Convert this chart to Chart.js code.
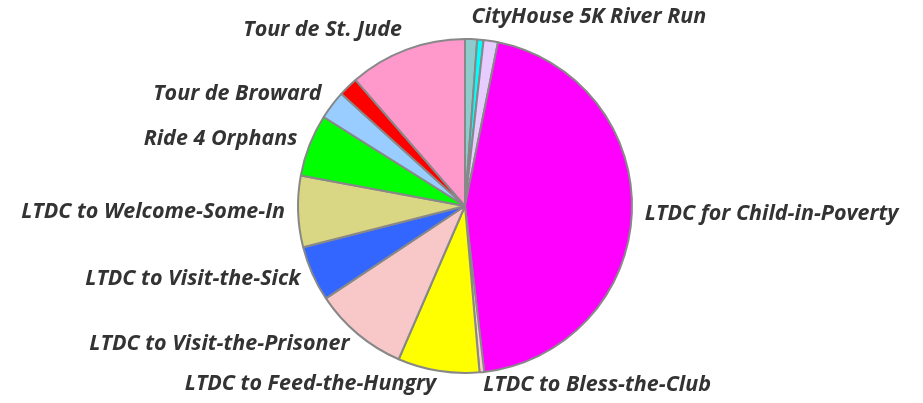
<!DOCTYPE html>
<html>
<head>
<meta charset="utf-8">
<script src="https://cdn.jsdelivr.net/npm/chart.js@4.4.1/dist/chart.umd.min.js"></script>
<style>
  html, body { margin: 0; padding: 0; background: #fff; }
  #wrap { width: 923px; height: 403px; }
</style>
</head>
<body>
<div id="wrap"><canvas id="pieChart"></canvas></div>
<script>
// slices, clockwise from 12 o'clock (labels of the tiny hidden slices are unknown)
const events = [
    'CityHouse 5K River Run', 'Event 2', 'Event 3',
    'LTDC for Child-in-Poverty', 'LTDC to Bless-the-Club', 'LTDC to Feed-the-Hungry',
    'LTDC to Visit-the-Prisoner', 'LTDC to Visit-the-Sick', 'LTDC to Welcome-Some-In',
    'Ride 4 Orphans', 'Tour de Broward', 'Event 12', 'Tour de St. Jude'
];
const shares = [4.2, 2.2, 5.0, 162, 1.6, 28.4, 33, 19.3, 24.8, 21.7, 10, 6.8, 41];
const sliceColors = [
    '#8ccccc', '#00ffff', '#e6ccff', '#ff00ff', '#ffcccc', '#ffff00',
    '#f8c8c8', '#3366ff', '#d9d684', '#00ff00', '#99ccff', '#ff0000', '#ff99cc'
];

// outside labels, hidden when they collide with an earlier one
const outsideLabels = {
    id: 'outsideLabels',
    afterDatasetsDraw(chart) {
        const ctx = chart.ctx;
        const arcs = chart.getDatasetMeta(0).data;
        const placed = [];
        ctx.save();
        ctx.font = 'italic bold 21.5px "Open Sans"';
        ctx.fillStyle = '#333';
        ctx.textBaseline = 'middle';
        arcs.forEach((arc, i) => {
            const mid = (arc.startAngle + arc.endAngle) / 2;
            const vx = Math.cos(mid), vy = Math.sin(mid);
            const r = arc.outerRadius + 13;
            const px = arc.x + r * vx;
            const py = arc.y + r * vy + Math.min(0, vy) * Math.abs(vy) * 9;
            const text = chart.data.labels[i];
            const w = ctx.measureText(text).width;
            const left = vx >= 0 ? px : px - w;
            const box = { x0: left - 4, x1: left + w + 4, y0: py - 13, y1: py + 13 };
            const hit = placed.some(b => !(box.x1 < b.x0 || box.x0 > b.x1 || box.y1 < b.y0 || box.y0 > b.y1));
            if (hit) return;
            placed.push(box);
            ctx.textAlign = vx >= 0 ? 'left' : 'right';
            ctx.fillText(text, px, py);
        });
        ctx.restore();
    }
};

const ctx = document.getElementById('pieChart').getContext('2d');
new Chart(ctx, {
    type: 'pie',
    data: {
        labels: events,
        datasets: [{
            data: shares,
            backgroundColor: sliceColors,
            borderColor: '#888',
            borderWidth: 2
        }]
    },
    options: {
        responsive: true,
        maintainAspectRatio: false,
        animation: false,
        layout: { padding: { top: 38, bottom: 29, left: 7, right: 0 } },
        plugins: {
            legend: { display: false },
            tooltip: { enabled: false }
        }
    },
    plugins: [outsideLabels]
});
</script>
</body>
</html>
